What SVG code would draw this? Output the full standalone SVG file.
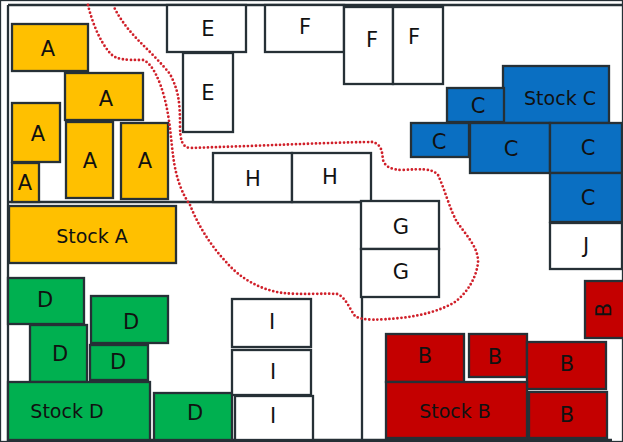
<svg xmlns="http://www.w3.org/2000/svg" width="623" height="442" viewBox="0 0 623 442">
<style>
rect{stroke:#263036;stroke-width:2.3}
.y{fill:#ffc000}.b{fill:#0a6fc2}.g{fill:#00b050}.r{fill:#c40000}.w{fill:#ffffff}
text{font-family:"DejaVu Sans","Liberation Sans",sans-serif;font-size:21px;fill:#111;text-anchor:middle;dominant-baseline:central}
.s{font-size:19px}
.frame{stroke:#263036;stroke-width:2.3;fill:none}
.route{stroke:#d0202a;stroke-width:2.8;fill:none;stroke-dasharray:0 4;stroke-linecap:round;stroke-linejoin:round}
</style>
<rect x="0" y="0" width="623" height="442" fill="#ffffff" stroke="none"/>
<g id="frame">
<path class="frame" d="M8,5 H623 M8,5 V440 H612 M8,202 H362 V440"/>
</g>
<g id="A1"><rect class="y" x="12" y="24" width="76" height="47"/><text x="48" y="49">A</text></g>
<g id="A2"><rect class="y" x="65" y="73" width="78" height="47"/><text x="106" y="99">A</text></g>
<g id="A3"><rect class="y" x="12" y="103" width="48" height="59"/><text x="38" y="134">A</text></g>
<g id="A4"><rect class="y" x="12" y="163" width="27" height="39"/><text x="25" y="183">A</text></g>
<g id="A5"><rect class="y" x="66" y="122" width="47" height="76"/><text x="90" y="161">A</text></g>
<g id="A6"><rect class="y" x="121" y="123" width="47" height="76"/><text x="145" y="161">A</text></g>
<g id="StockA"><rect class="y" x="9" y="206" width="167" height="57"/><text class="s" x="92" y="236">Stock A</text></g>
<g id="E1"><rect class="w" x="167" y="5" width="79" height="47"/><text x="208" y="29">E</text></g>
<g id="E2"><rect class="w" x="183" y="53" width="50" height="79"/><text x="208" y="93">E</text></g>
<g id="F1"><rect class="w" x="265" y="5" width="79" height="47"/><text x="305" y="27">F</text></g>
<g id="F2"><rect class="w" x="344" y="7" width="49" height="77"/><text x="372" y="40">F</text></g>
<g id="F3"><rect class="w" x="393" y="7" width="50" height="77"/><text x="414" y="37">F</text></g>
<g id="H1"><rect class="w" x="213" y="153" width="79" height="49"/><text x="253" y="179">H</text></g>
<g id="H2"><rect class="w" x="292" y="153" width="79" height="49"/><text x="330" y="177">H</text></g>
<g id="G1"><rect class="w" x="361" y="201" width="78" height="48"/><text x="401" y="227">G</text></g>
<g id="G2"><rect class="w" x="361" y="249" width="78" height="48"/><text x="401" y="272">G</text></g>
<g id="StockC"><rect class="b" x="503" y="66" width="106" height="57"/><text class="s" x="560" y="98">Stock C</text></g>
<g id="C1"><rect class="b" x="447" y="88" width="57" height="34"/><text x="478" y="106">C</text></g>
<g id="C2"><rect class="b" x="411" y="123" width="58" height="34"/><text x="439" y="142">C</text></g>
<g id="C3"><rect class="b" x="470" y="123" width="80" height="50"/><text x="511" y="149">C</text></g>
<g id="C4"><rect class="b" x="550" y="123" width="72" height="50"/><text x="588" y="148">C</text></g>
<g id="C5"><rect class="b" x="550" y="173" width="72" height="49"/><text x="588" y="198">C</text></g>
<g id="J"><rect class="w" x="550" y="223" width="72" height="46"/><text x="586" y="246">J</text></g>
<g id="B0"><rect class="r" x="585" y="281" width="40" height="57"/><text x="604" y="310" transform="rotate(-90 604 310)">B</text></g>
<g id="B1"><rect class="r" x="386" y="334" width="78" height="48"/><text x="425" y="356">B</text></g>
<g id="B2"><rect class="r" x="469" y="334" width="58" height="43"/><text x="495" y="357">B</text></g>
<g id="B3"><rect class="r" x="527" y="342" width="79" height="47"/><text x="567" y="364">B</text></g>
<g id="StockB"><rect class="r" x="386" y="382" width="141" height="56"/><text class="s" x="455" y="411">Stock B</text></g>
<g id="B4"><rect class="r" x="529" y="392" width="78" height="46"/><text x="567" y="415">B</text></g>
<g id="D1"><rect class="g" x="8" y="278" width="76" height="46"/><text x="45" y="300">D</text></g>
<g id="D2"><rect class="g" x="91" y="296" width="77" height="47"/><text x="131" y="322">D</text></g>
<g id="D3"><rect class="g" x="30" y="325" width="57" height="57"/><text x="60" y="354">D</text></g>
<g id="D4"><rect class="g" x="90" y="345" width="58" height="35"/><text x="118" y="362">D</text></g>
<g id="StockD"><rect class="g" x="8" y="382" width="142" height="58"/><text class="s" x="67" y="411">Stock D</text></g>
<g id="D5"><rect class="g" x="154" y="393" width="78" height="47"/><text x="195" y="413">D</text></g>
<g id="I1"><rect class="w" x="232" y="299" width="79" height="48"/><text x="272" y="322">I</text></g>
<g id="I2"><rect class="w" x="232" y="350" width="79" height="45"/><text x="273" y="372">I</text></g>
<g id="I3"><rect class="w" x="235" y="396" width="78" height="44"/><text x="273" y="416">I</text></g>
<g id="connectors">
<path class="route" d="M88,5 C92,22 100,42 110,53 C116,60 125,60 143,60 C152,63 160,80 165,100 C170,120 171,140 173,155 C176,180 183,195 190,205 C198,225 210,245 227,263 C240,278 260,290 283,293 C300,295 325,293 337,294 C346,297 350,310 355,316 C362,321 380,320 400,318 C420,316 440,311 455,302 C468,292 476,278 478,263 C479,248 466,235 457,222 C450,210 445,190 438,175 C432,168 420,169 403,170 C392,170 385,167 383,160 C382,152 382,145 373,142 C350,142 300,144 250,146 L190,148 C182,147 180,140 180,125 C180,100 178,90 170,74 C162,64 150,52 140,42 C130,32 120,20 113,5"/>
</g>
</svg>
